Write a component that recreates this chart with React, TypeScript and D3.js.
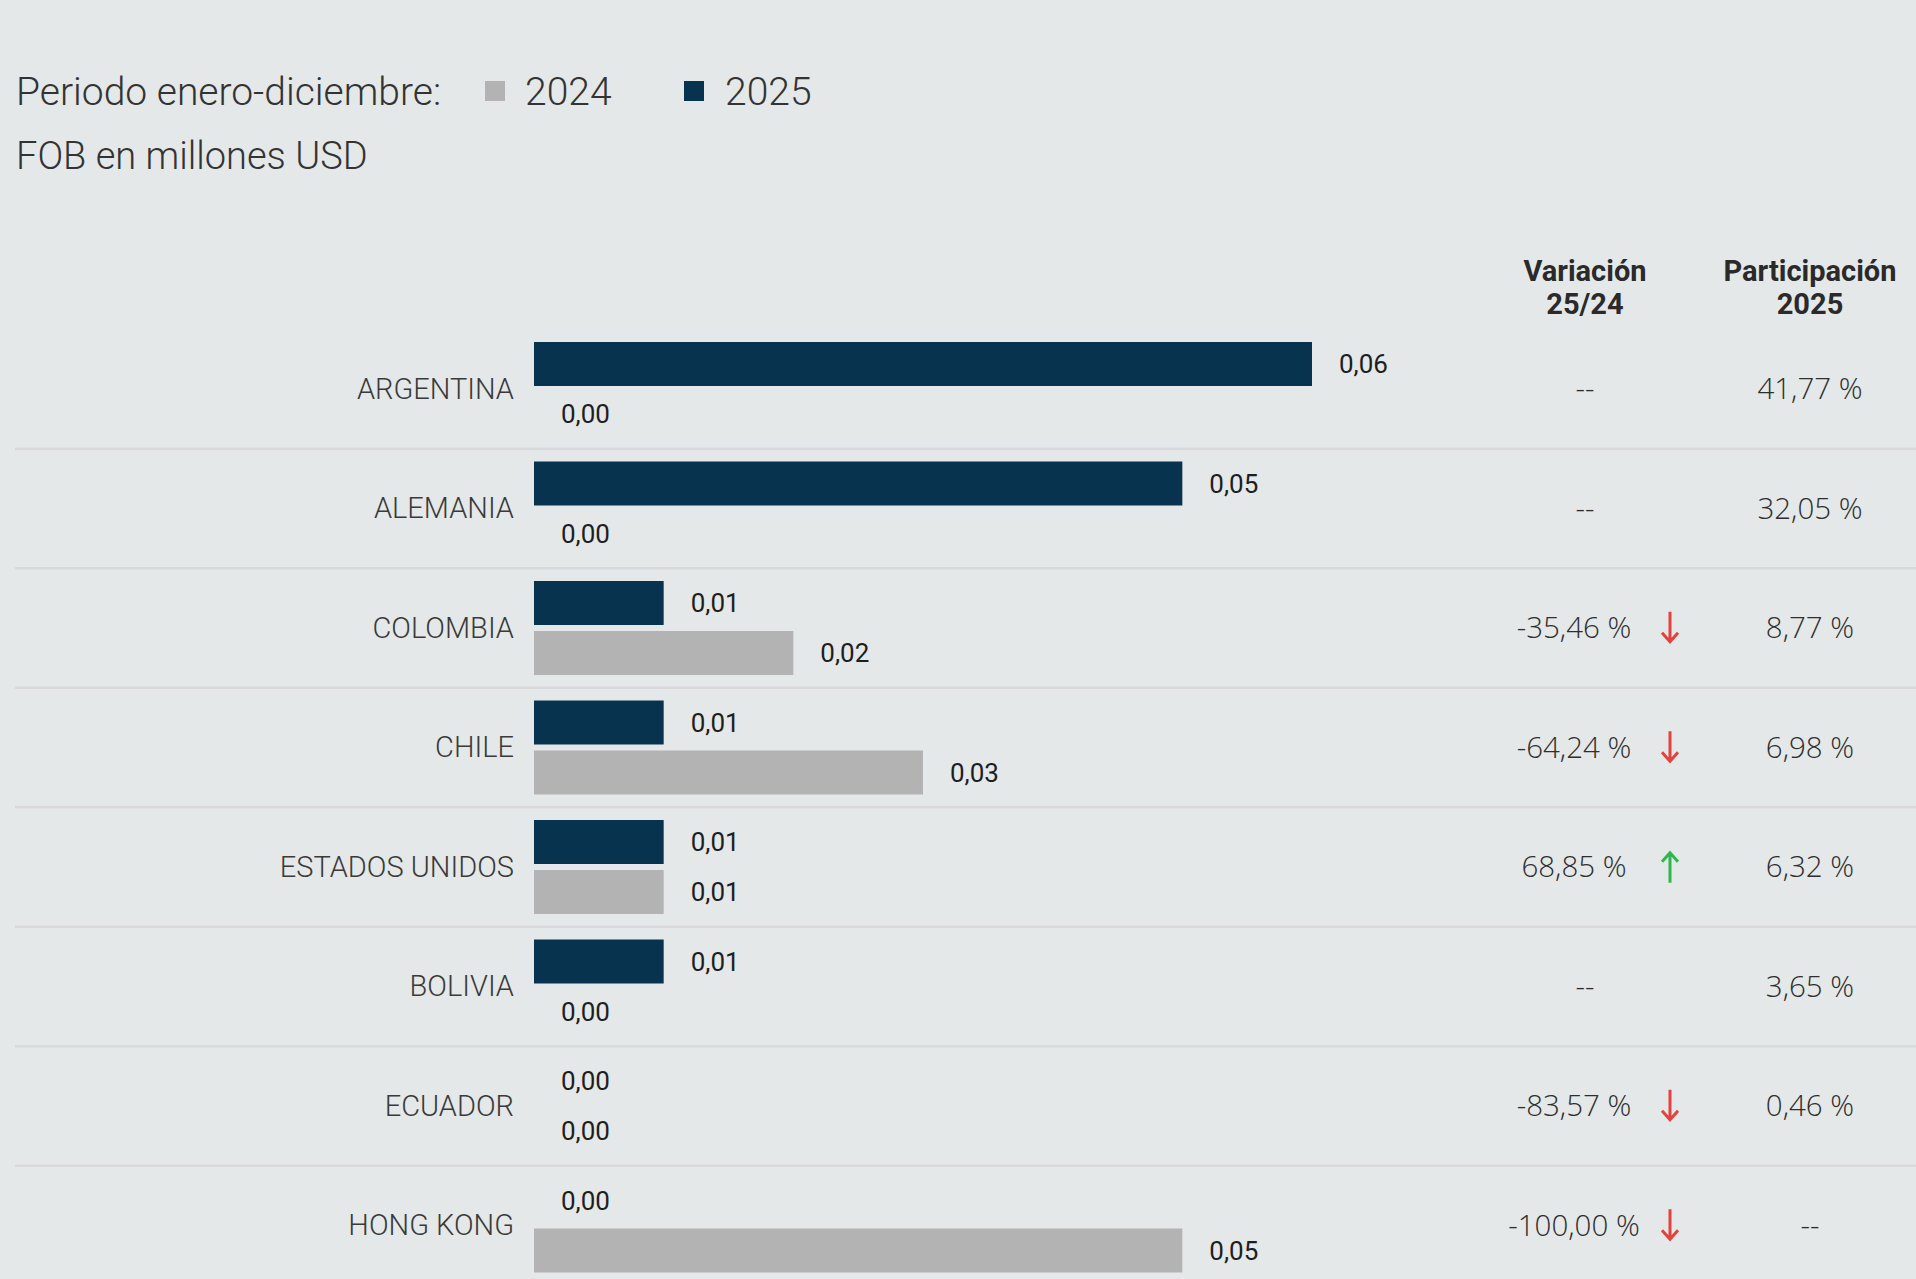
import React, { useEffect } from "react";
import * as d3 from "d3";

const countries = ["ARGENTINA", "ALEMANIA", "COLOMBIA", "CHILE", "ESTADOS UNIDOS", "BOLIVIA", "ECUADOR", "HONG KONG"];
const values2025 = [0.06, 0.05, 0.01, 0.01, 0.01, 0.01, 0.0, 0.0];
const values2024 = [0.0, 0.0, 0.02, 0.03, 0.01, 0.0, 0.0, 0.05];
const variation: (number | null)[] = [null, null, -35.46, -64.24, 68.85, null, -83.57, -100.0];
const participation: (number | null)[] = [41.77, 32.05, 8.77, 6.98, 6.32, 3.65, 0.46, null];
const legendTitle = "Periodo enero-diciembre:";
const seriesNames = ["2024", "2025"];
const unitLabel = "FOB en millones USD";
const headerVar = ["Variación", "25/24"];
const headerPart = ["Participación", "2025"];

const W = 1916;
const H = 1279;
const C2025 = "#08334e";
const C2024 = "#b3b3b3";
const BG = "#e4e8e9";

const loc = d3.formatLocale({ decimal: ",", thousands: ".", grouping: [3], currency: ["", ""], minus: "-" });
const f2 = loc.format(".2f");

export default function App() {
  useEffect(() => {
    document.body.style.margin = "0";
    document.body.style.background = BG;
  }, []);

  const x = d3.scaleLinear().domain([0, 0.06]).range([534, 1312]);
  const rowH = 119.5;
  const y = d3
    .scaleBand<string>()
    .domain(countries)
    .range([329, 329 + rowH * countries.length])
    .paddingInner(0);
  const barH = 44;
  const topPad = 13;
  const gap = 6;
  const labelFont = "Roboto, sans-serif";
  const tableFont = "'Open Sans', sans-serif";
  const varX = 1574;
  const arrowX = 1670;
  const varCenter = 1585;
  const partX = 1810;

  return (
    <svg width={W} height={H} style={{ position: "absolute", left: 0, top: 0, display: "block", background: BG }}>
      <rect x={0} y={0} width={W} height={H} fill={BG} />
      {/* Legend */}
      <text x={16} y={105} fontFamily={labelFont} fontWeight={300} fontSize={39} fill="#333">
        {legendTitle}
      </text>
      <rect x={485} y={81} width={20} height={20} fill={C2024} />
      <text x={525} y={105} fontFamily={labelFont} fontWeight={300} fontSize={39} fill="#333">
        {seriesNames[0]}
      </text>
      <rect x={684} y={81} width={20} height={20} fill={C2025} />
      <text x={725} y={105} fontFamily={labelFont} fontWeight={300} fontSize={39} fill="#333">
        {seriesNames[1]}
      </text>
      <text x={16} y={169} fontFamily={labelFont} fontWeight={300} fontSize={38} fill="#333">
        {unitLabel}
      </text>

      {/* Headers */}
      <text textAnchor="middle" fontFamily={labelFont} fontWeight={700} fontSize={29} fill="#2a2a2a">
        <tspan x={varCenter} y={281}>{headerVar[0]}</tspan>
        <tspan x={varCenter} y={314}>{headerVar[1]}</tspan>
      </text>
      <text textAnchor="middle" fontFamily={labelFont} fontWeight={700} fontSize={29} fill="#2a2a2a">
        <tspan x={partX} y={281}>{headerPart[0]}</tspan>
        <tspan x={partX} y={314}>{headerPart[1]}</tspan>
      </text>

      {countries.map((c, i) => {
        const top = y(c)!;
        const cy = top + y.bandwidth() / 2;
        const y25 = top + topPad;
        const y24 = y25 + barH + gap;
        const v25 = values2025[i];
        const v24 = values2024[i];
        const va = variation[i];
        const pa = participation[i];
        return (
          <g key={c}>
            {i < countries.length - 1 && (
              <rect x={15} y={top + rowH - 1} width={W - 15} height={2.5} fill="#d9d8dc" />
            )}
            <text
              x={514}
              y={cy}
              dy="0.34em"
              textAnchor="end"
              fontFamily={labelFont}
              fontWeight={300}
              fontSize={29}
              fill="#3a3a3a"
            >
              {c}
            </text>
            {v25 > 0 && <rect x={x(0)} y={y25} width={x(v25) - x(0)} height={barH} fill={C2025} />}
            {v24 > 0 && <rect x={x(0)} y={y24} width={x(v24) - x(0)} height={barH} fill={C2024} />}
            <text
              x={x(v25) + 27}
              y={y25 + barH / 2}
              dy="0.36em"
              fontFamily={labelFont}
              fontWeight={400}
              fontSize={26}
              fill="#1e1e1e"
            >
              {f2(v25)}
            </text>
            <text
              x={x(v24) + 27}
              y={y24 + barH / 2}
              dy="0.36em"
              fontFamily={labelFont}
              fontWeight={400}
              fontSize={26}
              fill="#1e1e1e"
            >
              {f2(v24)}
            </text>
            {va === null ? (
              <text x={varCenter} y={cy} dy="0.36em" textAnchor="middle" fontFamily={tableFont} fontWeight={300} fontSize={29.5} fill="#2e2e2e">
                --
              </text>
            ) : (
              <g>
                <text x={varX} y={cy} dy="0.36em" textAnchor="middle" fontFamily={tableFont} fontWeight={300} fontSize={29.5} fill="#2e2e2e">
                  {f2(va) + " %"}
                </text>
                {va < 0 ? (
                  <path
                    d={`M${arrowX},${cy - 16}V${cy + 14}M${arrowX - 8},${cy + 5}L${arrowX},${cy + 14}L${arrowX + 8},${cy + 5}`}
                    fill="none"
                    stroke="#e5413e"
                    strokeWidth={3}
                  />
                ) : (
                  <path
                    d={`M${arrowX},${cy + 16}V${cy - 14}M${arrowX - 8},${cy - 5}L${arrowX},${cy - 14}L${arrowX + 8},${cy - 5}`}
                    fill="none"
                    stroke="#2cb84b"
                    strokeWidth={3}
                  />
                )}
              </g>
            )}
            <text x={partX} y={cy} dy="0.36em" textAnchor="middle" fontFamily={tableFont} fontWeight={300} fontSize={29.5} fill="#2e2e2e">
              {pa === null ? "--" : f2(pa) + " %"}
            </text>
          </g>
        );
      })}
    </svg>
  );
}
